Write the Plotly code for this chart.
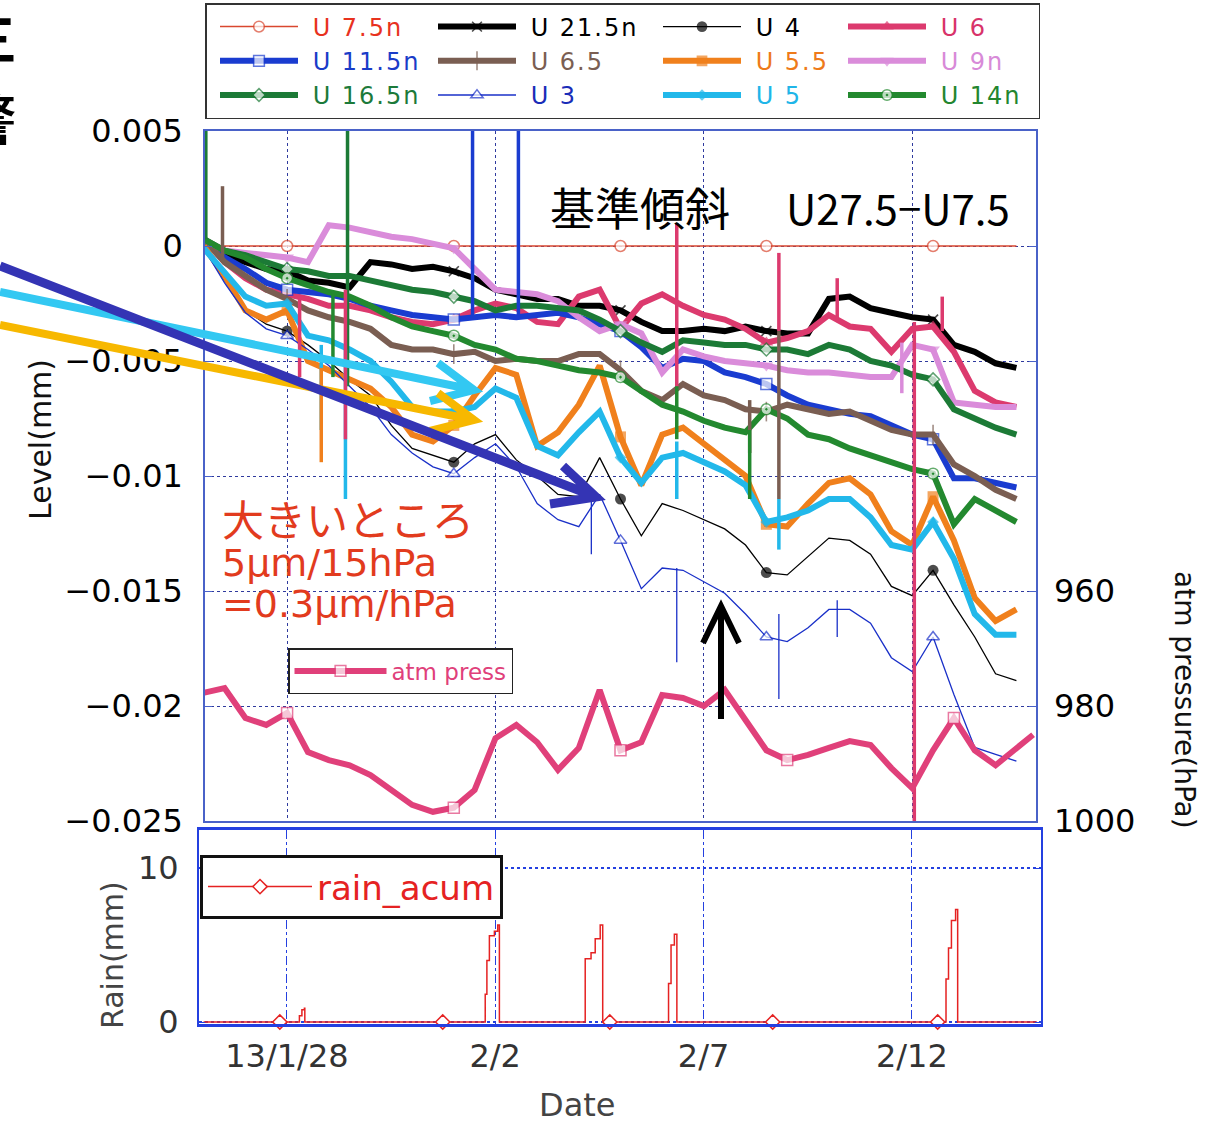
import plotly.graph_objects as go
from datetime import datetime, timedelta

W, H = 1213, 1125
BASE = datetime(2013, 1, 26)

# sample times: days after 2013-01-26 00:00 (every half day)
DAYS = [i * 0.5 for i in range(40)]
MARK_IDX = [4, 12, 20, 27, 35]          # samples that carry a symbol

# level values in micrometres (1e-3 mm)
U7_5N = [0.0] * 40
U21_5N = [0.1, -0.4, -0.7, -1.0, -1.1, -1.5, -1.6, -1.8, -0.7, -0.8, -1.0, -0.9, -1.1, -1.4, -1.9, -2.1,
          -2.3, -2.3, -2.6, -2.6, -2.8, -3.3, -3.7, -3.7, -3.6, -3.7, -3.5, -3.7, -3.8, -3.8, -2.3, -2.2,
          -2.7, -2.9, -3.1, -3.2, -4.3, -4.6, -5.1, -5.3]
U4 = [-0.1, -1.5, -2.8, -3.4, -3.7, -4.3, -5.0, -5.8, -6.5, -7.8, -8.8, -9.1, -9.4, -8.6, -8.2, -9.3,
      -10.0, -10.8, -10.9, -9.2, -11.0, -12.6, -11.2, -11.5, -11.9, -12.3, -13.0, -14.2, -14.3, -13.5,
      -12.7, -12.8, -13.4, -14.8, -15.2, -14.1, -15.6, -17.0, -18.6, -18.9]
U6 = [0.3, -0.7, -1.4, -1.9, -2.1, -2.3, -2.6, -2.6, -2.8, -3.1, -3.3, -3.4, -3.2, -2.8, -2.5, -2.7,
      -3.3, -3.4, -2.2, -1.9, -3.6, -2.5, -2.1, -2.6, -3.0, -3.2, -3.6, -4.2, -4.0, -3.7, -3.0, -3.5,
      -3.6, -4.6, -3.6, -3.5, -4.6, -6.3, -6.8, -7.0]
U11_5N = [0.3, -0.5, -1.0, -1.6, -1.9, -2.0, -2.1, -2.3, -2.6, -2.8, -3.0, -3.1, -3.2, -3.1, -3.0, -3.1,
          -3.0, -2.9, -3.1, -3.4, -3.7, -4.4, -5.3, -4.9, -5.0, -5.5, -5.7, -6.0, -6.5, -6.9, -7.1, -7.3,
          -7.4, -7.8, -8.2, -8.4, -10.1, -10.1, -10.3, -10.5]
U6_5 = [0.3, -0.7, -1.3, -1.9, -2.3, -2.8, -3.1, -3.3, -3.6, -4.3, -4.5, -4.5, -4.7, -4.6, -5.0, -4.9,
        -5.0, -5.0, -4.7, -4.7, -5.4, -6.3, -6.7, -6.0, -6.5, -6.7, -7.1, -7.2, -6.9, -7.1, -7.3, -7.2,
        -7.6, -8.0, -8.2, -8.2, -9.5, -10.0, -10.6, -11.0]
U5_5 = [0.0, -1.3, -2.8, -3.2, -2.8, -5.0, -5.4, -5.8, -6.2, -7.0, -8.2, -8.5, -7.8, -6.5, -5.3, -5.6,
        -8.7, -8.1, -6.9, -5.2, -8.3, -10.4, -8.2, -7.9, -8.6, -9.3, -10.0, -12.1, -12.2, -11.2, -10.3,
        -10.1, -10.8, -12.4, -13.0, -10.9, -12.8, -15.3, -16.3, -15.8]
U9N = [0.3, -0.2, -0.3, -0.4, -0.5, -0.7, 0.9, 0.8, 0.6, 0.4, 0.3, 0.1, -0.1, -1.0, -1.9, -2.0,
       -2.1, -2.4, -3.1, -3.7, -3.4, -3.8, -5.5, -4.5, -4.8, -5.0, -5.1, -5.2, -5.4, -5.5, -5.5, -5.6,
       -5.7, -5.7, -4.3, -4.5, -6.8, -6.9, -7.0, -7.0]
U16_5N = [0.3, -0.2, -0.4, -0.7, -1.0, -1.1, -1.3, -1.3, -1.5, -1.7, -1.9, -2.0, -2.2, -2.4, -2.8, -2.6,
          -2.6, -2.7, -2.8, -3.2, -3.7, -4.2, -4.6, -4.1, -4.2, -4.3, -4.3, -4.5, -4.5, -4.7, -4.3, -4.5,
          -5.0, -5.2, -5.6, -5.8, -7.1, -7.5, -7.9, -8.2]
U3 = [-0.1, -1.6, -2.9, -3.6, -3.9, -4.5, -5.2, -6.1, -7.0, -8.2, -9.0, -9.6, -9.9, -9.2, -8.6, -9.6,
      -11.2, -11.9, -12.2, -10.8, -12.8, -14.9, -14.0, -14.1, -14.6, -15.1, -16.0, -17.0, -17.2, -16.6,
      -15.8, -15.8, -16.4, -17.9, -18.5, -17.0, -19.5, -21.8, -22.1, -22.4]
U5 = [-0.1, -1.2, -2.2, -2.6, -2.5, -3.9, -4.1, -4.5, -5.0, -5.9, -7.0, -7.2, -7.2, -7.0, -6.2, -6.6,
      -8.7, -9.1, -8.1, -7.2, -9.2, -10.3, -9.2, -9.0, -9.4, -9.8, -10.4, -12.0, -11.8, -11.5, -11.0,
      -11.0, -11.8, -13.0, -13.2, -12.0, -13.6, -16.0, -16.9, -16.9]
U14N = [0.3, -0.2, -0.5, -1.0, -1.4, -1.7, -2.0, -2.2, -2.6, -3.1, -3.5, -3.7, -3.9, -4.3, -4.5, -4.9,
        -5.0, -5.2, -5.4, -5.5, -5.7, -6.3, -6.9, -7.2, -7.6, -7.9, -8.1, -7.1, -7.5, -8.2, -8.4, -8.8,
        -9.1, -9.4, -9.7, -9.9, -12.1, -11.0, -11.5, -12.0]

# single-sample glitches: (series, day, from um, to um)
SPIKES = [
    ("U 16.5n", 0.05, 0.3, 6.2), ("U 6.5", 0.45, -0.7, 2.6), ("U 6", 2.30, -2.3, -5.7),
    ("U 5", 2.82, -4.3, -8.0), ("U 5.5", 2.82, -5.3, -9.4), ("U 14n", 3.10, -2.0, -5.7),
    ("U 16.5n", 3.45, 6.2, -6.1), ("U 5", 3.40, -4.5, -11.0), ("U 6", 3.40, -1.9, -8.4),
    ("U 11.5n", 6.45, -3.0, 6.2), ("U 11.5n", 7.55, -3.0, 6.2), ("U 3", 9.30, -10.8, -13.4),
    ("U 6", 11.35, 1.0, -6.1), ("U 14n", 11.35, -6.1, -8.4), ("U 5", 11.35, -8.5, -11.0),
    ("U 3", 11.35, -14.0, -18.1), ("U 6.5", 13.10, -6.7, -9.0), ("U 14n", 13.10, -8.0, -11.0),
    ("U 6", 13.80, -0.3, -3.7), ("U 6.5", 13.80, -3.7, -11.0), ("U 5", 13.80, -11.0, -13.2),
    ("U 3", 13.80, -16.0, -19.7), ("U 6", 15.20, -3.3, -1.4), ("U 3", 15.20, -15.4, -17.0),
    ("U 9n", 16.75, -4.2, -6.4), ("U 6", 17.05, -3.3, -26.0), ("U 6", 17.72, -3.7, -2.2),
]

# atmospheric pressure (hPa)
PRESS_DAYS = DAYS + [19.9]
PRESS = [977.7, 976.9, 982.1, 983.3, 981.2, 988.0, 989.4, 990.3, 992.0, 994.6, 997.2, 998.4, 997.7,
         994.6, 985.6, 983.3, 986.3, 991.1, 987.3, 977.2, 987.7, 986.3, 978.1, 978.6, 980.0, 977.2,
         982.4, 987.7, 989.4, 988.5, 987.3, 986.1, 986.8, 990.8, 994.3, 987.7, 982.1, 987.7, 990.3,
         987.3, 985.0]
PRESS_MARK_IDX = [4, 12, 20, 28, 36]

# accumulated rain (mm)
RAIN_DAYS = [0.0, 2.28, 2.30, 2.36, 2.42, 2.43, 6.70, 6.76, 6.80, 6.86, 6.98, 7.06, 7.10,
             9.12, 9.16, 9.30, 9.40, 9.52, 9.58, 11.12, 11.16, 11.22, 11.30, 11.36,
             17.76, 17.82, 17.88, 17.95, 18.05, 18.10, 20.0]
RAIN_MM = [0, 0, 0.4, 0.8, 0.9, 0, 0, 1.8, 4.0, 5.6, 5.9, 6.3, 0,
           0, 4.1, 4.5, 5.4, 6.3, 0, 0, 2.5, 5.0, 5.7, 0,
           0, 2.8, 4.8, 6.6, 7.3, 0, 0]
RAIN_MARK_DAYS = [1.83, 5.74, 9.75, 13.66, 17.62]
RAIN_MARK_MM = [0, 0, 0, 0, 0]

TICK_DAYS = [2, 7, 12, 17]
TICK_TEXT = ["13/1/28", "2/2", "2/7", "2/12"]
LEVEL_TICKS = [0.005, 0, -0.005, -0.01, -0.015, -0.02, -0.025]
LEVEL_TEXT = ["0.005", "0", "\u22120.005", "\u22120.01", "\u22120.015", "\u22120.02", "\u22120.025"]
PRESS_TICKS = [960, 980, 1000]


def dt(d):
    return (BASE + timedelta(days=d)).strftime("%Y-%m-%d %H:%M:%S")


def px(x):
    return x / W


def py(y):
    return 1 - y / H


CLEAR = "rgba(0,0,0,0)"


def sparse(n, idx, on):
    """per-point colour: shown only at idx (first entry kept for the legend swatch)."""
    keep = set(idx) | {0}
    return [on if i in keep else CLEAR for i in range(n)]


def sizes(n, s):
    """first sample gets size 0 so its (legend-only) colour is never drawn."""
    return [0] + [s] * (n - 1)


# name, data, line colour, text colour, width, symbol, fill, size, legend column
STYLE = [
    ("U 7.5n", U7_5N, "#D9472F", "#E8321E", 1.5, "circle", "white", 11, 1),
    ("U 21.5n", U21_5N, "#000000", "#000000", 6, "x-thin", None, 10, 2),
    ("U 4", U4, "#000000", "#000000", 1.3, "circle", "fill", 11, 3),
    ("U 6", U6, "#DC3A6E", "#D8336A", 6, "triangle-up", "fill", 12, 4),
    ("U 11.5n", U11_5N, "#1A3CD0", "#1A3CC8", 6, "square", "white", 11, 1),
    ("U 6.5", U6_5, "#7A5E52", "#7A5E52", 6, "line-ns", None, 14, 2),
    ("U 5.5", U5_5, "#F0801C", "#EE7A1A", 6, "square", "fill", 11, 3),
    ("U 9n", U9N, "#DA8CDA", "#D88AD8", 6, "triangle-down", "fill", 12, 4),
    ("U 16.5n", U16_5N, "#1C7A36", "#1C7A3A", 6, "diamond", "white", 10, 1),
    ("U 3", U3, "#1A30C8", "#1A2DB8", 1.3, "triangle-up", "white", 11, 2),
    ("U 5", U5, "#22B8EA", "#20B5E8", 6, "diamond", "fill", 9, 3),
    ("U 14n", U14N, "#23892F", "#23862F", 6, "circle-dot", "white", 11, 4),
]
COL_WIDTH = {1: 115, 2: 122, 3: 82, 4: 102}
COLOR = {s[0]: s[2] for s in STYLE}
WIDTH = {s[0]: s[4] for s in STYLE}

fig = go.Figure()
dates = [dt(d) for d in DAYS]
n = len(DAYS)
for name, vals, col, tcol, w, sym, fill, size, lcol in STYLE:
    if fill == "white":
        mk = dict(symbol=sym, size=sizes(n, size), color=sparse(n, MARK_IDX, "white"),
                  line=dict(color=sparse(n, MARK_IDX, col), width=1.5))
    elif fill == "fill":
        mk = dict(symbol=sym, size=sizes(n, size), color=sparse(n, MARK_IDX, col), line=dict(width=0))
    else:
        mk = dict(symbol=sym, size=sizes(n, size), color=sparse(n, MARK_IDX, col),
                  line=dict(color=sparse(n, MARK_IDX, col), width=1.6))
    fig.add_trace(go.Scatter(
        x=dates, y=[v / 1000 for v in vals], mode="lines+markers",
        name=f'<span style="color:{tcol};letter-spacing:2px">&nbsp;{name}</span>',
        line=dict(color=col, width=w), marker=mk,
        legendgroup=f"col{lcol}", legendwidth=COL_WIDTH[lcol],
        xaxis="x", yaxis="y", legend="legend", hoverinfo="skip"))

for name, d, a, b in SPIKES:
    fig.add_trace(go.Scatter(
        x=[dt(d), dt(d)], y=[a / 1000, b / 1000], mode="lines",
        line=dict(color=COLOR[name], width=min(WIDTH[name], 3.5)),
        showlegend=False, xaxis="x", yaxis="y", hoverinfo="skip"))

PCOL = "#E0407A"
npr = len(PRESS_DAYS)
fig.add_trace(go.Scatter(
    x=[dt(d) for d in PRESS_DAYS], y=PRESS, mode="lines+markers",
    name=f'<span style="color:{PCOL}">atm press</span>',
    line=dict(color=PCOL, width=6),
    marker=dict(symbol="square", size=sizes(npr, 11), color=sparse(npr, PRESS_MARK_IDX, "white"),
                line=dict(color=sparse(npr, PRESS_MARK_IDX, PCOL), width=1.5)),
    xaxis="x", yaxis="y2", legend="legend2", hoverinfo="skip"))

RCOL = "#E52222"
fig.add_trace(go.Scatter(
    x=[dt(d) for d in RAIN_DAYS], y=RAIN_MM, mode="lines", line=dict(color=RCOL, width=1.5, shape="hv"),
    showlegend=False, xaxis="x2", yaxis="y3", hoverinfo="skip"))
fig.add_trace(go.Scatter(
    x=[dt(d) for d in RAIN_MARK_DAYS], y=RAIN_MARK_MM, mode="markers",
    marker=dict(symbol="diamond", size=11, color="white", line=dict(color=RCOL, width=1.5)),
    cliponaxis=False, showlegend=False, xaxis="x2", yaxis="y3", hoverinfo="skip"))
fig.add_trace(go.Scatter(
    x=[None], y=[None], mode="lines+markers", name=f'<span style="color:{RCOL}">rain_acum</span>',
    line=dict(color=RCOL, width=1.5),
    marker=dict(symbol="diamond", size=11, color="white", line=dict(color=RCOL, width=1.5)),
    xaxis="x2", yaxis="y3", legend="legend3", hoverinfo="skip"))

FONT = "DejaVu Sans"
CJK = "Noto Sans CJK JP"
GRID = "#2F3A9E"
FRAME = "#4A62C8"
BFRAME = "#2440E0"
RED = "#E23B1E"

annotations = []


def text(x, y, s, size, color="#000", family=FONT, angle=0, xanchor="center"):
    annotations.append(dict(x=px(x), y=py(y), xref="paper", yref="paper", text=s, showarrow=False,
                            font=dict(family=family, size=size, color=color), textangle=angle,
                            xanchor=xanchor, yanchor="middle", align="left"))


text(640, 207, "基準傾斜", 45, family=CJK)
text(898, 207, "U27.5\u2212U7.5", 42, family=CJK)
text(220, 557,
     f'<span style="font-family:{CJK};font-size:42px">大きいところ</span><br>'
     '<span style="font-size:38px">5μm/15hPa</span><br>'
     '<span style="font-size:38px">=0.3μm/hPa</span>', 31, color=RED, xanchor="left")
text(40, 440, "Level(mm)", 30, color="#111", angle=-90)
text(1185, 700, "atm pressure(hPa)", 28, color="#111", angle=90)
text(112, 955, "Rain(mm)", 30, color="#444", angle=-90)
text(577, 1105, "Date", 32, color="#444")
text(-10, 36, "<b>三</b>", 54, family=CJK)
text(-11, 117, "<b>警</b>", 54, family=CJK)


def arrow(shaft0, tip, w1, w2, color, width):
    p = (f"M{px(shaft0[0])},{py(shaft0[1])} L{px(tip[0])},{py(tip[1])} "
         f"M{px(w1[0])},{py(w1[1])} L{px(tip[0])},{py(tip[1])} L{px(w2[0])},{py(w2[1])}")
    return dict(type="path", path=p, xref="paper", yref="paper",
                line=dict(color=color, width=width), layer="above")


shapes = [
    # white patch behind the red note (hides grid there)
    dict(type="rect", xref="paper", yref="paper", x0=px(214), x1=px(500), y0=py(620), y1=py(502),
         fillcolor="white", line=dict(width=0), layer="below"),
    arrow((0, 292), (474, 390), (438, 363), (430, 401), "#33C8F2", 8),
    arrow((0, 325), (474, 420), (438, 393), (430, 431), "#F7B800", 8),
    arrow((0, 266), (596, 497), (563, 466), (550, 504), "#3434B4", 9),
    arrow((721, 719), (721, 606), (703, 643), (739, 643), "#000000", 6),
]

fig.update_layout(
    template="none",
    width=W, height=H, margin=dict(l=0, r=0, t=0, b=0, autoexpand=False),
    paper_bgcolor="white", plot_bgcolor="white", hovermode=False, showlegend=True,
    font=dict(family=FONT, color="#000"),
    xaxis=dict(domain=[px(205), px(1036)], anchor="y", type="date", automargin=False,
               range=[dt(0.03), dt(19.97)], tickvals=[dt(d) for d in TICK_DAYS],
               showticklabels=False, ticks="", showgrid=True, gridcolor=GRID, griddash="dot",
               gridwidth=1, showline=True, linecolor=FRAME, linewidth=1.5, mirror=True,
               zeroline=False),
    yaxis=dict(domain=[py(821), py(131)], anchor="x", range=[-0.025, 0.005], automargin=False,
               tickvals=LEVEL_TICKS, ticktext=LEVEL_TEXT, tickfont=dict(size=32, color="#000"),
               ticks="inside", ticklen=7, tickcolor=FRAME, ticklabelstandoff=14,
               showgrid=True, gridcolor=GRID, griddash="dot", gridwidth=1,
               showline=True, linecolor=FRAME, linewidth=1.5, mirror="ticks", zeroline=False),
    yaxis2=dict(overlaying="y", side="right", anchor="x", range=[1000, 880], automargin=False,
                tickvals=PRESS_TICKS, ticktext=[str(v) for v in PRESS_TICKS],
                tickfont=dict(size=32, color="#000"), ticks="", ticklabelstandoff=17,
                showgrid=False, showline=False, zeroline=False),
    xaxis2=dict(domain=[px(199), px(1041)], anchor="y3", type="date", automargin=False,
                range=[dt(-0.11), dt(20.1)], tickvals=[dt(d) for d in TICK_DAYS],
                ticktext=TICK_TEXT, tickfont=dict(size=32, color="#333"), ticks="",
                ticklabelstandoff=2, showgrid=True, gridcolor=BFRAME, griddash="dashdot",
                gridwidth=1, showline=True, linecolor=BFRAME, linewidth=2.5, mirror=True,
                zeroline=False),
    yaxis3=dict(domain=[py(1024), py(830)], anchor="x2", range=[-0.13, 12.47], automargin=False,
                tickvals=[0, 10], ticktext=["0", "10"], tickfont=dict(size=32, color="#333"),
                ticks="inside", ticklen=6, tickcolor=BFRAME, ticklabelstandoff=12,
                showgrid=True, gridcolor=BFRAME, griddash="dot", gridwidth=1.5,
                showline=True, linecolor=BFRAME, linewidth=2, mirror="ticks", zeroline=False),
    legend=dict(xref="container", yref="container", x=px(205), y=py(3),
                xanchor="left", yanchor="top", orientation="h", traceorder="grouped",
                tracegroupgap=0, itemwidth=78, indentation=10,
                font=dict(family=FONT, size=24), bordercolor="#333", borderwidth=1.5,
                bgcolor="white"),
    legend2=dict(xref="container", yref="container", x=px(288), y=py(648),
                 xanchor="left", yanchor="top", orientation="v",
                 itemwidth=92, font=dict(family=FONT, size=23), bordercolor="#222",
                 borderwidth=1.5, bgcolor="white"),
    legend3=dict(xref="container", yref="container", x=px(200), y=py(855),
                 xanchor="left", yanchor="top", orientation="v",
                 itemwidth=104, font=dict(family=FONT, size=34), bordercolor="#111",
                 borderwidth=3, bgcolor="white"),
    annotations=annotations,
    shapes=shapes,
)

fig.write_html("out.html", config={"displayModeBar": False},
               post_script="document.body.style.margin='0px';")
